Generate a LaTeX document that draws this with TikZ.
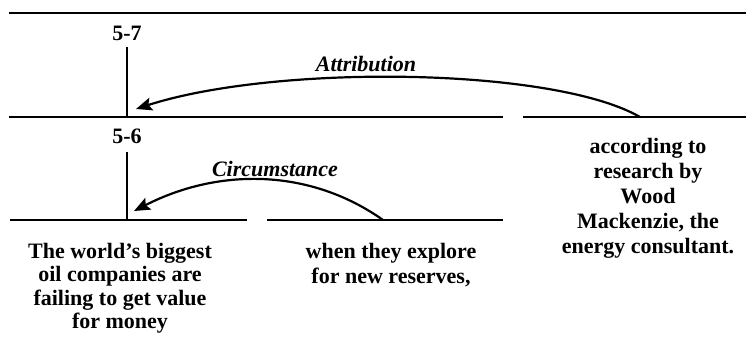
\documentclass[tikz,border=0pt]{standalone}
\usepackage{fontspec}
\setmainfont{Liberation Serif}
\usetikzlibrary{arrows.meta}
\begin{document}
\begin{tikzpicture}[x=1pt,y=1pt,
  baseline/.style={line width=2.7pt},
  stem/.style={line width=2.2pt},
  relarc/.style={line width=2.2pt,-{Stealth[length=16pt,width=13pt,inset=3pt]}},
  spanlabel/.style={inner sep=0pt,font=\fontsize{22}{22}\selectfont\bfseries},
  relname/.style={inner sep=0pt,font=\fontsize{22}{22}\selectfont\bfseries\itshape},
  segtext/.style={inner sep=0pt,anchor=north,align=center,font=\fontsize{22}{25}\selectfont\bfseries}]
\useasboundingbox (0,0) rectangle (746,338);

% horizontal lines of the tree
\coordinate (topL) at (9,325);   \coordinate (topR) at (746,325);
\coordinate (aL) at (9,221);     \coordinate (aR) at (503,221);
\coordinate (bL) at (523,221);   \coordinate (bR) at (746,221);
\coordinate (cL) at (10,118);    \coordinate (cR) at (247,118);
\coordinate (dL) at (267,118);   \coordinate (dR) at (503,118);
\draw[baseline] (topL) -- (topR);
\draw[baseline] (aL) -- (aR);
\draw[baseline] (bL) -- (bR);
\draw[baseline] (cL) -- (cR);
\draw[baseline] (dL) -- (dR);

% nucleus stems and span labels
\node[spanlabel] (s57) at (127,304.5) {5-7};
\node[spanlabel] (s56) at (127,201.5) {5-6};
\coordinate (stemA) at (127,221);
\coordinate (stemC) at (127,118);
\draw[stem] (stemA) -- (s57.south |- 0,291);
\draw[stem] (stemC) -- (s56.south |- 0,186);

% relation arcs
\coordinate (attrFrom) at (640,221);
\coordinate (attrTo) at (136,229);
\coordinate (circFrom) at (383,118);
\coordinate (circTo) at (134,127);
\draw[relarc] (attrFrom) .. controls (553,271) and (275,274) .. (attrTo);
\draw[relarc] (circFrom) .. controls (311,169) and (220,171) .. (circTo);
\node[relname] (attr) at (366,274.5) {Attribution};
\node[relname] (circ) at (275,169.5) {Circumstance};

% elementary discourse units
\node[segtext,font=\fontsize{22}{23.5}\selectfont\bfseries] (edu1) at (120,95)
  {The world's biggest\\oil companies are\\failing to get value\\for money};
\node[segtext] (edu2) at (391,95) {when they explore\\for new reserves,};
\node[segtext] (edu3) at (648,200)
  {according to\\research by\\Wood\\Mackenzie, the\\energy consultant.};
\end{tikzpicture}
\end{document}
